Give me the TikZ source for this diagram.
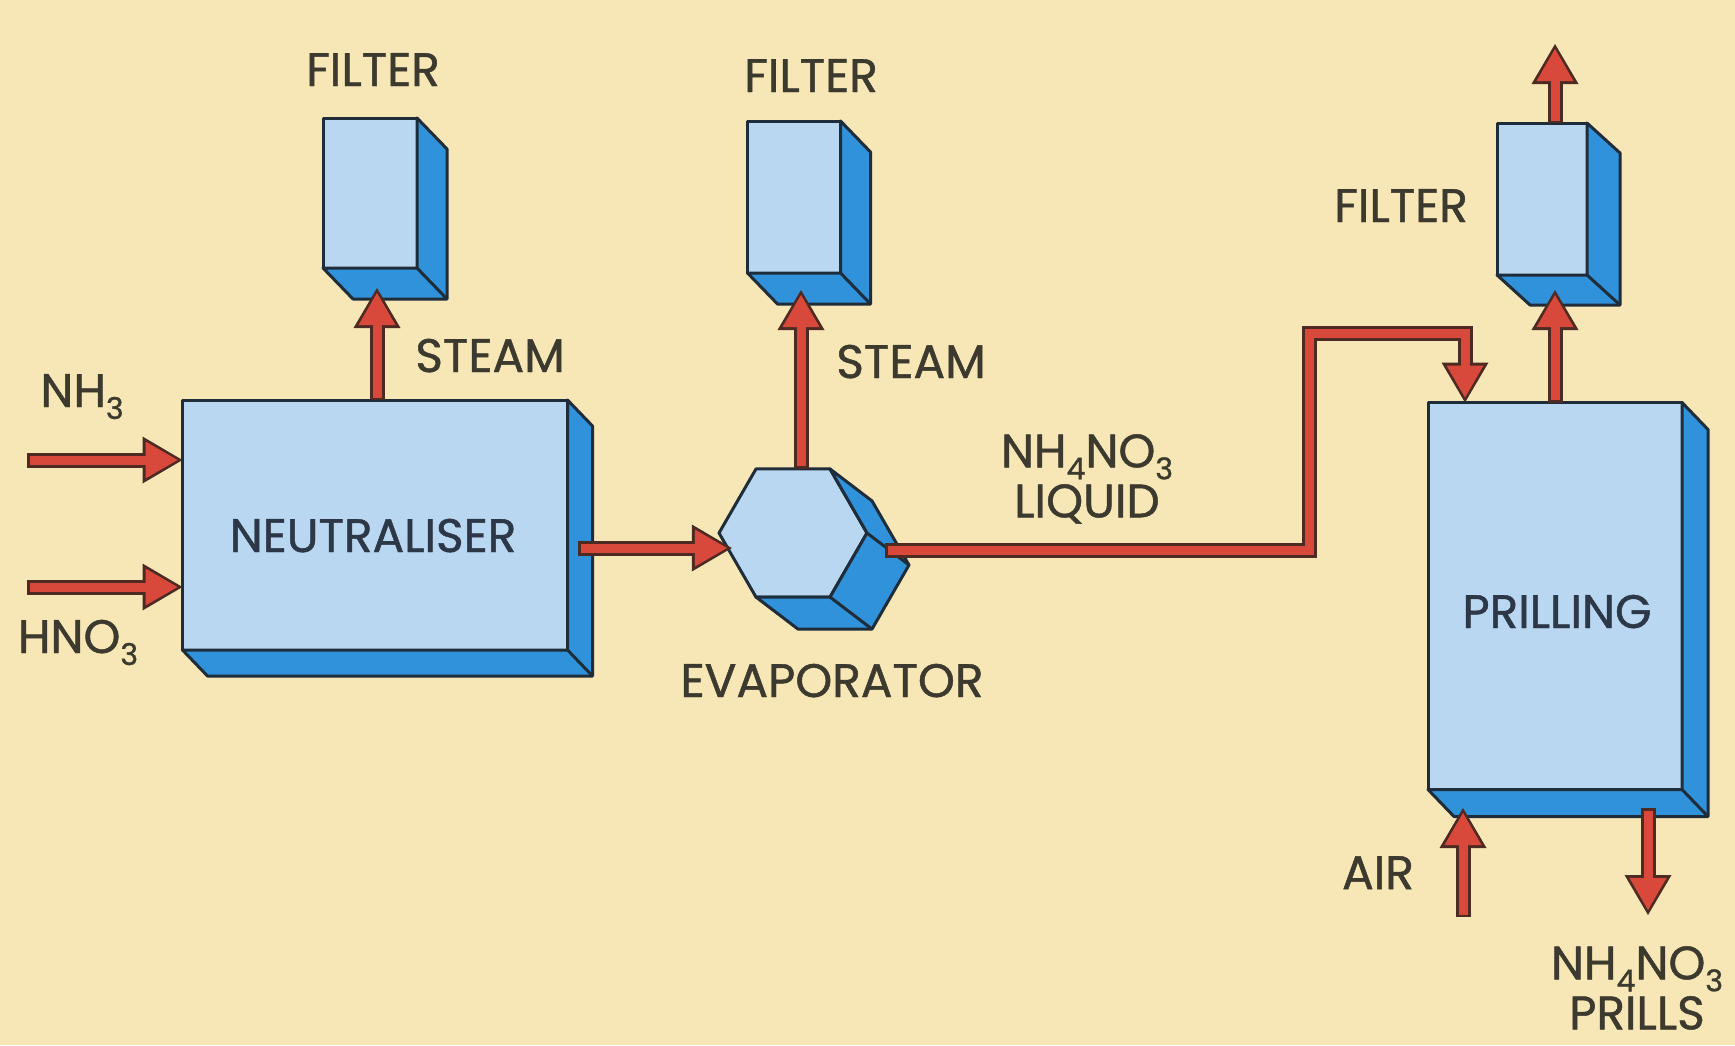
\documentclass[tikz,border=0pt]{standalone}
\usepackage{fontspec}
\setmainfont{Poppins}[FakeBold=1]
\usetikzlibrary{arrows.meta,shapes.geometric}

\definecolor{paper}{HTML}{F7E6B6}
\definecolor{faceblue}{HTML}{B9D7F1}
\definecolor{sideblue}{HTML}{3092DA}
\definecolor{boxline}{HTML}{1F2D3A}
\definecolor{liquor}{HTML}{D9493B}
\definecolor{rim}{HTML}{4D2A22}
\definecolor{ink}{HTML}{3C3A2E}
\definecolor{unitink}{HTML}{2C3848}

\newcommand{\lblfont}{\fontsize{47}{50}\selectfont}
\newcommand{\chemsub}[1]{\raisebox{-12pt}{\fontsize{30}{30}\selectfont #1}}

% side and bottom faces of a box node
\newcommand{\extrudebox}[3]{%
  \filldraw[sideface] (#1.north east) -- ++(#2,#3) -- ([shift={(#2,#3)}]#1.south east)
    -- ([shift={(#2,#3)}]#1.south west) -- (#1.south west) -- (#1.south east) -- cycle;
  \draw[sideface] (#1.south east) -- ++(#2,#3);
}

\begin{document}
\begin{tikzpicture}[x=1pt, y=-1pt,
    unit/.style={draw=boxline, line width=3pt, fill=faceblue, inner sep=0pt, outer sep=0pt, line join=round},
    sideface/.style={draw=boxline, line width=3pt, fill=sideblue, line join=round},
    flow/.style={draw=liquor, line width=9pt, line join=miter, shorten <=2.5pt, shorten >=5pt,
      -{Triangle[width=37pt, length=32pt, line width=0pt]},
      preaction={draw=rim, line width=15pt, shorten <=0pt, shorten >=0pt,
        -{Triangle[width=47pt, length=40pt, line width=0pt]}}},
    lbl/.style={text=ink, font=\lblfont, inner sep=0pt, anchor=base},
    unitname/.style={lbl, text=unitink},
  ]
  \path[use as bounding box, fill=paper] (0,0) rectangle (1735,1045);

  % process units
  \node[unit, minimum width=385pt, minimum height=250pt] (neu) at (375,525) {};
  \extrudebox{neu}{25}{26}
  \node[unit, minimum width=94pt, minimum height=150pt] (fil1) at (370,193) {};
  \extrudebox{fil1}{30}{31}
  \node[unit, minimum width=93pt, minimum height=152pt] (fil2) at (794,197) {};
  \extrudebox{fil2}{30}{31}
  \node[unit, minimum width=90pt, minimum height=152pt] (fil3) at (1542,199) {};
  \extrudebox{fil3}{33}{30}
  \node[unit, minimum width=254pt, minimum height=387pt] (pril) at (1555,596) {};
  \extrudebox{pril}{26}{27}
  \node[unit, regular polygon, regular polygon sides=6, minimum size=148pt] (evap) at (793,533) {};
  \filldraw[sideface] (evap.60) -- ++(42,32) -- ([shift={(42,32)}]evap.0)
    -- ([shift={(42,32)}]evap.-60) -- ([shift={(42,32)}]evap.-120)
    -- (evap.-120) -- (evap.-60) -- (evap.0) -- cycle;
  \draw[sideface] (evap.0) -- ++(42,32) (evap.-60) -- ++(42,32);

  % flows
  \coordinate (nh3in) at (27,460);
  \coordinate (hno3in) at (27,587);
  \coordinate (neuout) at (578,548);
  \coordinate (fil1in) at (377,288);
  \coordinate (fil2in) at (801,290);
  \coordinate (evapout) at (885,550);
  \coordinate (bend) at (1309,333);
  \coordinate (prilin) at (1465,403);
  \coordinate (fil3in) at (1555,290);
  \coordinate (vent) at (1555,44);
  \coordinate (prilfloor) at (1555,808);
  \coordinate (airin) at (1463,917);
  \coordinate (prillout) at (1648,915);

  \draw[flow] (nh3in) -- (nh3in -| neu.west);
  \draw[flow] (hno3in) -- (hno3in -| neu.west);
  \draw[flow] (fil1in |- neu.north) -- (fil1in);
  \draw[flow] (neuout) -- (neuout -| evap.-160);
  \draw[flow] (fil2in |- evap.north) -- (fil2in);
  \draw[flow] (evapout) -| (bend) -| (prilin |- pril.north);
  \draw[flow] (fil3in |- pril.north) -- (fil3in);
  \draw[flow] (vent |- fil3.north) -- (vent);
  \draw[flow] (airin) -- (airin |- prilfloor);
  \draw[flow] (prillout |- prilfloor) -- (prillout);

  % labels
  \node[lbl] (f1lbl) at (373,86) {FILTER};
  \node[lbl] (f2lbl) at (811,92) {FILTER};
  \node[lbl] (f3lbl) at (1401,222) {FILTER};
  \node[lbl] (s1lbl) at (490,372) {STEAM};
  \node[lbl] (s2lbl) at (911,378) {STEAM};
  \node[lbl] (nh3lbl) at (82,407) {NH\chemsub{3}};
  \node[lbl] (hno3lbl) at (78,653) {HNO\chemsub{3}};
  \node[unitname] (neulbl) at (373,552) {NEUTRALISER};
  \node[lbl] (evaplbl) at (832,697) {EVAPORATOR};
  \node[unitname] (prillbl) at (1557,628) {PRILLING};
  \node[lbl] (airlbl) at (1378,889) {AIR};
  \node[lbl, anchor=north, align=center] (liqlbl) at (1087,434) {NH\chemsub{4}NO\chemsub{3}\\LIQUID};
  \node[lbl, anchor=north, align=center] (prodlbl) at (1637,946) {NH\chemsub{4}NO\chemsub{3}\\PRILLS};
\end{tikzpicture}
\end{document}
